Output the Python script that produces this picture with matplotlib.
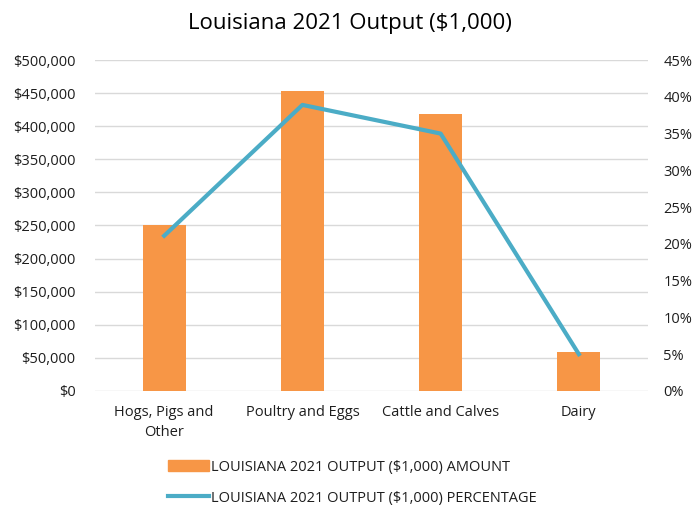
import matplotlib.pyplot as plt
from matplotlib.ticker import FuncFormatter, MultipleLocator
from matplotlib.patches import Patch
from matplotlib.lines import Line2D
import numpy as np

plt.rcParams['font.family'] = ['Open Sans', 'DejaVu Sans']

categories = ["Hogs, Pigs and\nOther", "Poultry and Eggs", "Cattle and Calves", "Dairy"]
amount = [250000, 454000, 418000, 59000]
percentage = [21.1, 38.9, 35.0, 5.0]

orange = '#F79646'
blue = '#4BACC6'
grid_c = '#D9D9D9'
text_c = '#1e1e1e'

fig = plt.figure(figsize=(6.99, 5.09), dpi=100)
ax = fig.add_axes([0.136, 0.232, 0.791, 0.650])
ax2 = ax.twinx()

x = np.arange(len(categories))
ax.bar(x, amount, width=0.31, color=orange, zorder=2)
ax2.plot(x, percentage, color=blue, linewidth=3, zorder=3)

ax.set_xlim(-0.5, len(categories) - 0.5)
ax.set_ylim(0, 500000)
ax.yaxis.set_major_locator(MultipleLocator(50000))
ax.yaxis.set_major_formatter(FuncFormatter(lambda v, p: f"${v:,.0f}"))
ax2.set_ylim(0, 45)
ax2.yaxis.set_major_locator(MultipleLocator(5))
ax2.yaxis.set_major_formatter(FuncFormatter(lambda v, p: f"{v:.0f}%"))

ax.set_xticks(x)
ax.set_xticklabels(categories, fontsize=10.5, color=text_c, linespacing=1.5)
ax.grid(axis='y', color=grid_c, linewidth=1, zorder=0)
ax.set_axisbelow(True)

for a in (ax, ax2):
    for s in a.spines.values():
        s.set_visible(False)
    a.tick_params(length=0, labelsize=10.5, labelcolor=text_c)
ax.tick_params(axis='x', pad=10)
ax.tick_params(axis='y', pad=14)
ax2.tick_params(axis='y', pad=11)

fig.suptitle("Louisiana 2021 Output ($1,000)", fontsize=16, y=0.975, color='black')

handles = [Patch(color=orange), Line2D([0], [0], color=blue, linewidth=3)]
labels = ["LOUISIANA 2021 OUTPUT ($1,000) AMOUNT",
          "LOUISIANA 2021 OUTPUT ($1,000) PERCENTAGE"]
fig.legend(handles, labels, loc='center left', bbox_to_anchor=(0.24, 0.052), ncol=1,
           frameon=False, fontsize=10.5, labelspacing=1.1, handlelength=2.8,
           handletextpad=0.15, labelcolor=text_c, borderpad=0, borderaxespad=0)

fig.savefig('out.png', dpi=100)
